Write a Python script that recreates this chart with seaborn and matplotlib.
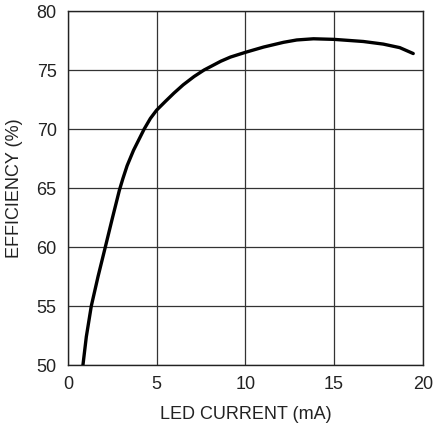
import matplotlib
matplotlib.use("Agg")
import matplotlib.pyplot as plt
import seaborn as sns

# curve
led_current = [0.85, 1.04, 1.32, 1.70, 2.11, 2.50, 2.90, 3.10, 3.34, 3.70, 4.30,
               4.65, 5.00, 5.50, 5.98, 6.50, 7.11, 7.67, 8.62, 9.16, 10.00,
               11.03, 12.15, 12.90, 13.84, 15.00, 16.65, 17.77, 18.70, 19.46]
efficiency = [50.0, 52.4, 55.0, 57.5, 60.0, 62.4, 64.8, 65.8, 66.9, 68.2, 70.0,
              70.9, 71.6, 72.35, 73.05, 73.75, 74.45, 75.0, 75.75, 76.1, 76.5,
              76.95, 77.35, 77.55, 77.65, 77.6, 77.42, 77.2, 76.9, 76.4]
x_ticks = [0, 5, 10, 15, 20]
y_ticks = [50, 55, 60, 65, 70, 75, 80]

sns.set_style("white")
plt.rcParams['font.family'] = ['Liberation Sans', 'DejaVu Sans']

fig = plt.figure(figsize=(4.35, 4.25), dpi=100)
ax = fig.add_axes([0.156, 0.141, 0.816, 0.833])

sns.lineplot(x=led_current, y=efficiency, ax=ax, color="black", linewidth=2.4,
             sort=False, zorder=3)

ax.set_xlim(0, 20)
ax.set_ylim(50, 80)
ax.set_xticks(x_ticks)
ax.set_yticks(y_ticks)
ax.grid(True, color="#333333", linewidth=0.9)
for s in ax.spines.values():
    s.set_color("#222222")
    s.set_linewidth(1.0)
ax.tick_params(length=0, labelsize=13, colors="#222222", pad=8)

ax.set_xlabel("LED CURRENT (mA)", fontsize=13, color="#222222", labelpad=9)
ax.set_ylabel("EFFICIENCY (%)", fontsize=13, color="#222222", labelpad=10)

fig.savefig("out.png", dpi=100)
